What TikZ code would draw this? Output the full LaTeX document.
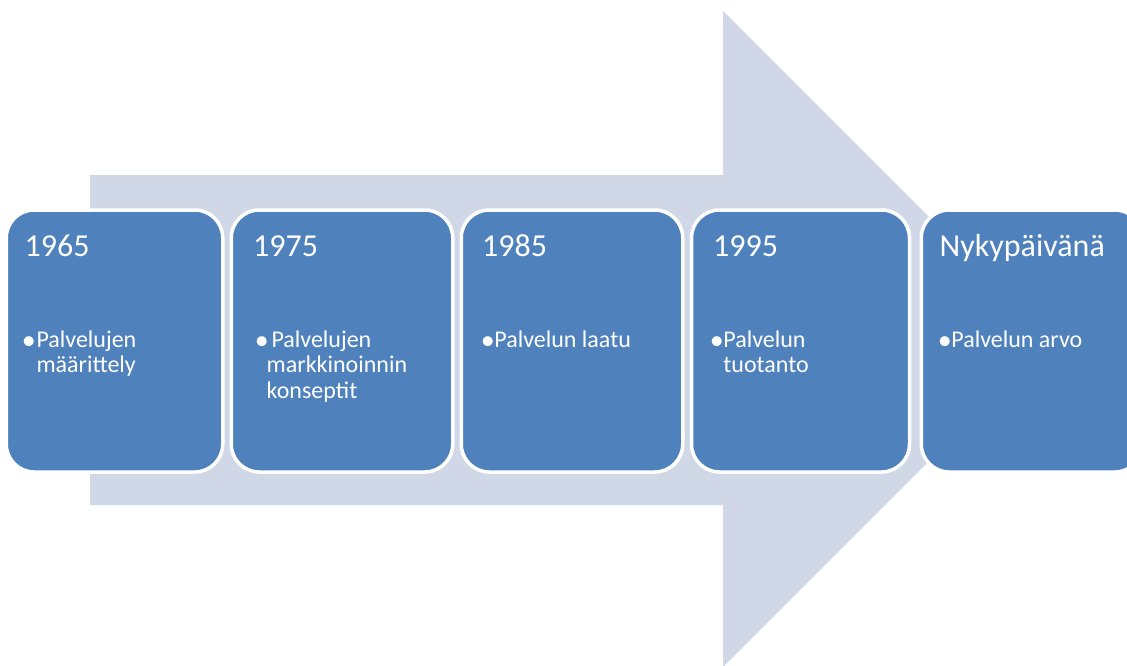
\documentclass[tikz,border=0pt]{standalone}
\usepackage{fontspec}
\setmainfont{Carlito}
\definecolor{boxblue}{HTML}{4F81BD}
\definecolor{arrowfill}{HTML}{D0D8E8}
\newcommand{\yearfont}{\fontsize{32}{38}\selectfont}
\newcommand{\itemfont}{\fontsize{24}{25.7}\selectfont}
\newcommand{\bigbullet}{\hspace*{-4pt}\raisebox{-2pt}{\fontsize{28}{28}\selectfont •}}
% #1 first-line text start, #2 continuation indent, #3 text
\newcommand{\bulletitem}[3]{\parbox[t]{200pt}{\itemfont\noindent\hangindent=#2\hangafter=1\makebox[#1][l]{\bigbullet}#3}}
\tikzset{
  stagebox/.style={draw=white, line width=3.5pt, fill=boxblue, rounded corners=28pt, minimum height=262pt, inner sep=0pt},
  yeartext/.style={anchor=base west, inner sep=0pt, text=white, font=\yearfont},
  itemtext/.style={anchor=base west, inner sep=0pt, text=white},
}
\begin{document}
\begin{tikzpicture}[x=1pt,y=-1pt]
\useasboundingbox (0,0) rectangle (1127,666);
\begin{scope}
\clip (0,0) rectangle (1127,666);
% big arrow
\fill[arrowfill] (90,175) -- (723,175) -- (723,11) -- (1051,339) -- (723,667) -- (723,505) -- (90,505) -- cycle;
% boxes
\node[stagebox, minimum width=216.5pt] (b1) at (114.5,341) {};
\node[stagebox, minimum width=221.5pt] (b2) at (342,341) {};
\node[stagebox, minimum width=221.5pt] (b3) at (572,341) {};
\node[stagebox, minimum width=218pt] (b4) at (800.5,341) {};
\node[stagebox, minimum width=221.5pt] (b5) at (1032,341) {};
% years
\node[yeartext] (y1) at (24.5,256.5) {1965};
\node[yeartext] (y2) at (253,256.5) {1975};
\node[yeartext] (y3) at (482,256.5) {1985};
\node[yeartext] (y4) at (713,256.5) {1995};
\node[yeartext] (y5) at (939.5,256.5) {Nykypäivänä};
% items
\node[itemtext] (t1) at (25.7,347) {\bulletitem{10.6pt}{10.6pt}{Palvelujen\\määrittely}};
\node[itemtext] (t2) at (258.7,347) {\bulletitem{12.6pt}{7.8pt}{Palvelujen\\markkinoinnin\\konseptit}};
\node[itemtext] (t3) at (484.7,347) {\bulletitem{9.5pt}{9.5pt}{Palvelun laatu}};
\node[itemtext] (t4) at (713.7,347) {\bulletitem{9.5pt}{9.5pt}{Palvelun\\tuotanto}};
\node[itemtext] (t5) at (941.7,347) {\bulletitem{9.5pt}{9.5pt}{Palvelun arvo}};
\end{scope}
\end{tikzpicture}
\end{document}
